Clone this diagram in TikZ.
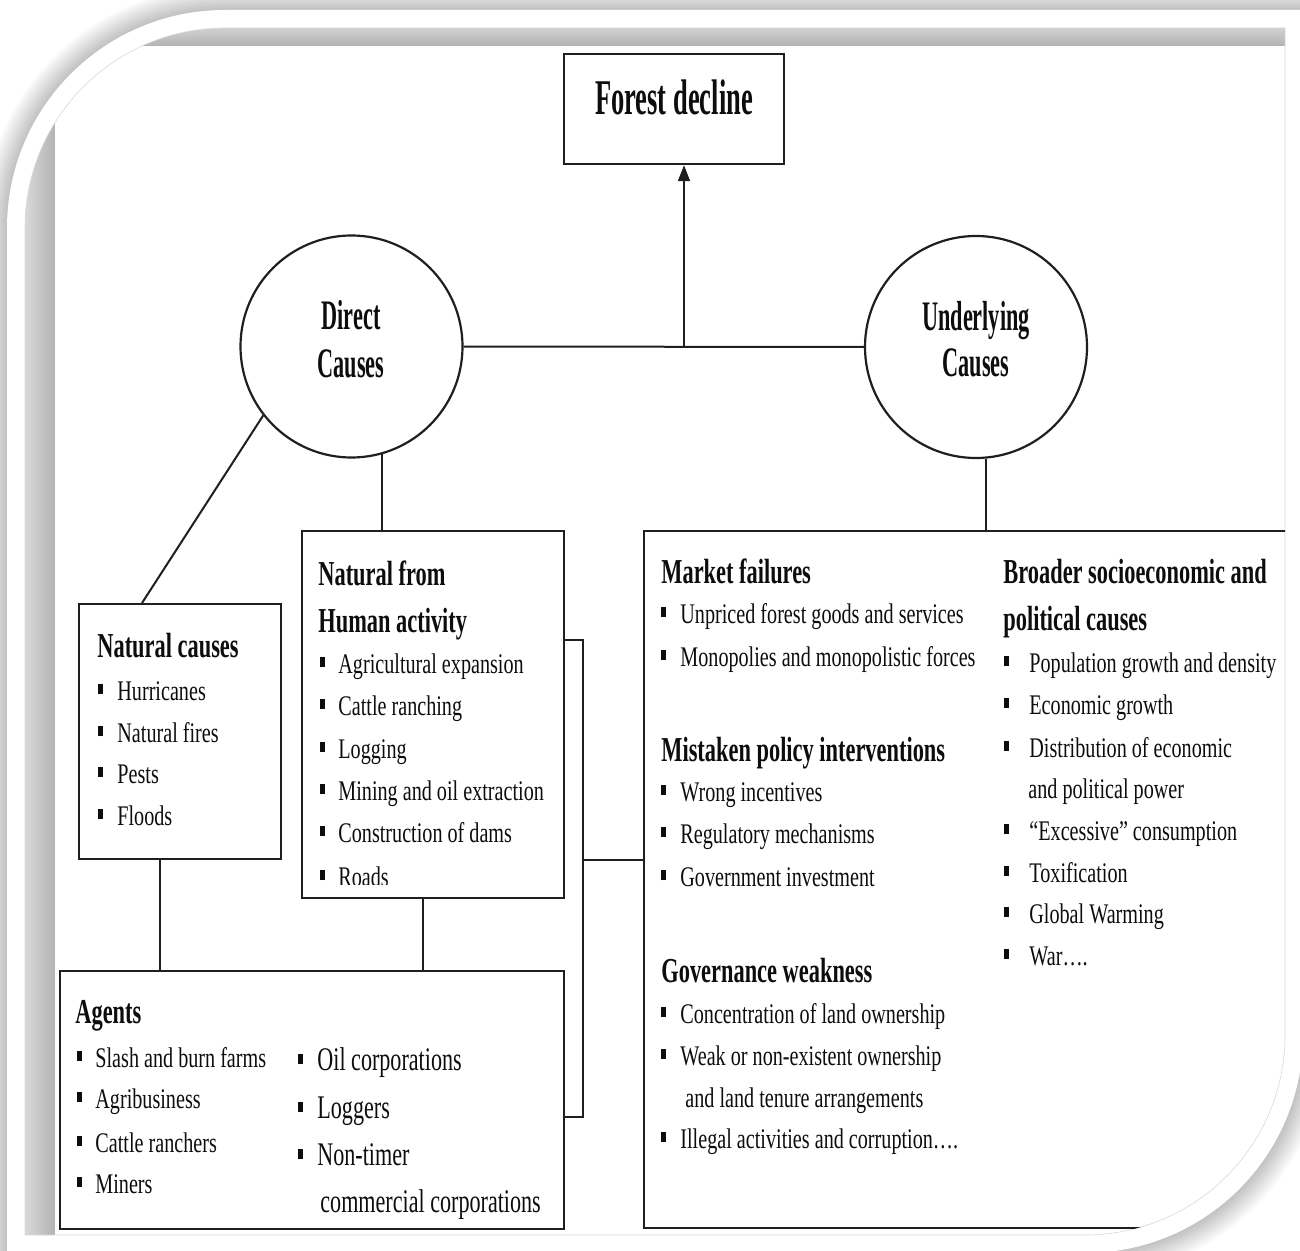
\documentclass[tikz,border=0pt]{standalone}
\usepackage{fontspec}
\setmainfont{Liberation Serif}
\newfontfamily\fbody[FakeStretch=0.71]{Liberation Serif}
\newfontfamily\fhead[FakeStretch=0.64]{Liberation Serif}
\newfontfamily\fcirc[FakeStretch=0.53]{Liberation Serif}
\newfontfamily\fagent[FakeStretch=0.67]{Liberation Serif}
\usetikzlibrary{arrows.meta,calc}
\newcommand\bl[2]{\makebox[#1][l]{\rule[2.8pt]{2.5pt}{5pt}}#2}
\tikzset{
  txt/.style={inner sep=0pt, anchor=base west, text=black!95},
  body/.style={txt, font=\fbody\fontsize{14.2}{21}\selectfont},
  head/.style={txt, font=\fhead\bfseries\fontsize{17.5}{21}\selectfont},
  agr/.style={txt, font=\fagent\fontsize{16.5}{21}\selectfont},
  ctext/.style={inner sep=0pt, anchor=base, text=black!95, font=\fcirc\bfseries\fontsize{21}{24}\selectfont},
  boxst/.style={draw=black!88, line width=1.1pt, inner sep=0pt, anchor=north west},
  circ/.style={circle, draw=black!88, line width=1.1pt, minimum size=111pt, inner sep=0pt},
  conn/.style={draw=black!88, line width=1pt},
  arr/.style={conn, -{Triangle[length=8pt,width=6pt]}},
}
\def\ORpath{(7,1253) -- (7,228) arc[start angle=180,end angle=270,radius=218] -- (1303,10) -- (1303,1035) arc[start angle=0,end angle=90,radius=218] -- cycle}
\def\IRpath{(25,1235) -- (25,228) arc[start angle=180,end angle=270,radius=200] -- (1285,28) -- (1285,1035) arc[start angle=0,end angle=90,radius=200] -- cycle}
\begin{document}
\begin{tikzpicture}[x=0.5pt,y=-0.5pt]
\useasboundingbox (0,0) rectangle (1300,1251);
\fill[white] (0,0) rectangle (1300,1251);
% frame shadow
\foreach \w in {2,4,...,24} \draw[black, opacity=0.018, line width=\w pt] \ORpath;
\fill[white] \ORpath;
\begin{scope}
  \clip \IRpath;
  \shade[top color=black!18, bottom color=black!30] (25,28) rectangle (1285,46);
  \shade[left color=black!15, right color=black!30] (25,28) rectangle (55,1235);
  \fill[white] (55,46) rectangle (1285,1235);
\end{scope}
\draw[black!15, line width=0.3pt] \IRpath;

\begin{scope}
\clip \IRpath;
\clip (55,46) rectangle (1285,1235);

% boxes
\node[boxst, minimum width=110pt, minimum height=55pt] (fd) at (563,53) {};
\node[circ] (dc) at (351.5,346.5) {};
\node[circ] (uc) at (976,347) {};
\node[boxst, minimum width=101pt, minimum height=127.5pt] (ncbox) at (78,603) {};
\node[boxst, minimum width=131pt, minimum height=183.5pt] (hbox) at (301,530) {};
\node[boxst, minimum width=252pt, minimum height=129pt] (agbox) at (59,970) {};
\node[boxst, minimum width=328.5pt, minimum height=348.5pt] (ubox) at (643,530) {};

% titles
\node[ctext, font=\fcirc\bfseries\fontsize{25}{28}\selectfont] (fdt) at (674,115) {Forest decline};
\node[ctext] (dct1) at (351,330) {Direct};
\node[ctext] (dct2) at (351,378) {Causes};
\node[ctext] (uct1) at (976,331) {Underlying};
\node[ctext] (uct2) at (976,377) {Causes};

% connectors
\draw[conn] (dc.east) -- (uc.west);
\coordinate (jn) at (684,347);
\draw[arr] (jn) -- (jn |- fd.south);
\draw[conn] ([xshift=32pt]ncbox.north west) -- (dc.218.8);
\draw[conn] (dc.286) -- (dc.286 |- hbox.north);
\draw[conn] (uc.275.7) -- (uc.275.7 |- ubox.north);
\coordinate (l1) at (160,858);
\draw[conn] (l1) -- (l1 |- agbox.north);
\coordinate (l2) at (423,897);
\draw[conn] (l2) -- (l2 |- agbox.north);
\coordinate (b1) at (583,640);
\coordinate (b2) at (583,1117);
\coordinate (b3) at (583,860);
\draw[conn] (b1 -| hbox.east) -- (b1) -- (b2) -- (b2 -| agbox.east);
\draw[conn] (b3) -- (b3 -| ubox.west);

% Natural causes
\node[head] (nch) at (97,657) {Natural causes};
\foreach \y/\t [count=\i] in {700/Hurricanes, 742/Natural fires, 783/Pests, 825/Floods}
  \node[body] (nc\i) at (98,\y) {\bl{9.5pt}{\t}};

% Natural from human activity
\node[head] (hh1) at (318,585) {Natural from};
\node[head] (hh2) at (318,632) {Human activity};
\begin{scope}
\clip (301,530) rectangle (563,884);
\foreach \y/\t [count=\i] in {673/Agricultural expansion, 715/Cattle ranching, 758/Logging, 800/Mining and oil extraction, 842/Construction of dams, 886/Roads}
  \node[body] (h\i) at (320,\y) {\bl{9pt}{\t}};
\end{scope}

% Agents
\node[head] (agh) at (75,1023) {Agents};
\foreach \y/\t [count=\i] in {1067/Slash and burn farms, 1108/Agribusiness, 1152/Cattle ranchers, 1193/Miners}
  \node[body] (agl\i) at (77,\y) {\bl{9pt}{\t}};
\foreach \y/\t [count=\i] in {1070/Oil corporations, 1118/Loggers, 1165/Non-timer}
  \node[agr] (agr\i) at (298,\y) {\bl{9.5pt}{\t}};
\node[agr] (agr4) at (320,1212) {commercial corporations};

% Underlying, left column
\node[head] (mfh) at (661,583) {Market failures};
\node[body] (mf1) at (661,623) {\bl{9.5pt}{Unpriced forest goods and services}};
\node[body] (mf2) at (661,666) {\bl{9.5pt}{Monopolies and monopolistic forces}};
\node[head] (mph) at (661,761) {Mistaken policy interventions};
\node[body] (mp1) at (661,801) {\bl{9.5pt}{Wrong incentives}};
\node[body] (mp2) at (661,843) {\bl{9.5pt}{Regulatory mechanisms}};
\node[body] (mp3) at (661,886) {\bl{9.5pt}{Government investment}};
\node[head] (gwh) at (661,982) {Governance weakness};
\node[body] (gw1) at (661,1023) {\bl{9.5pt}{Concentration of land ownership}};
\node[body] (gw2) at (661,1065) {\bl{9.5pt}{Weak or non-existent ownership}};
\node[body] (gw3) at (685,1107) {and land tenure arrangements};
\node[body] (gw4) at (661,1148) {\bl{9.5pt}{Illegal activities and corruption….}};

% Underlying, right column
\node[head] (bsh1) at (1003,583) {Broader socioeconomic and};
\node[head] (bsh2) at (1003,630) {political causes};
\node[body] (bs1) at (1004,672) {\bl{12.5pt}{Population growth and density}};
\node[body] (bs2) at (1004,714) {\bl{12.5pt}{Economic growth}};
\node[body] (bs3) at (1004,757) {\bl{12.5pt}{Distribution of economic}};
\node[body] (bs3b) at (1028,798) {and political power};
\node[body] (bs4) at (1004,840) {\bl{12.5pt}{“Excessive” consumption}};
\node[body] (bs5) at (1004,882) {\bl{12.5pt}{Toxification}};
\node[body] (bs6) at (1004,923) {\bl{12.5pt}{Global Warming}};
\node[body] (bs7) at (1004,965) {\bl{12.5pt}{War….}};
\end{scope}
\end{tikzpicture}
\end{document}
